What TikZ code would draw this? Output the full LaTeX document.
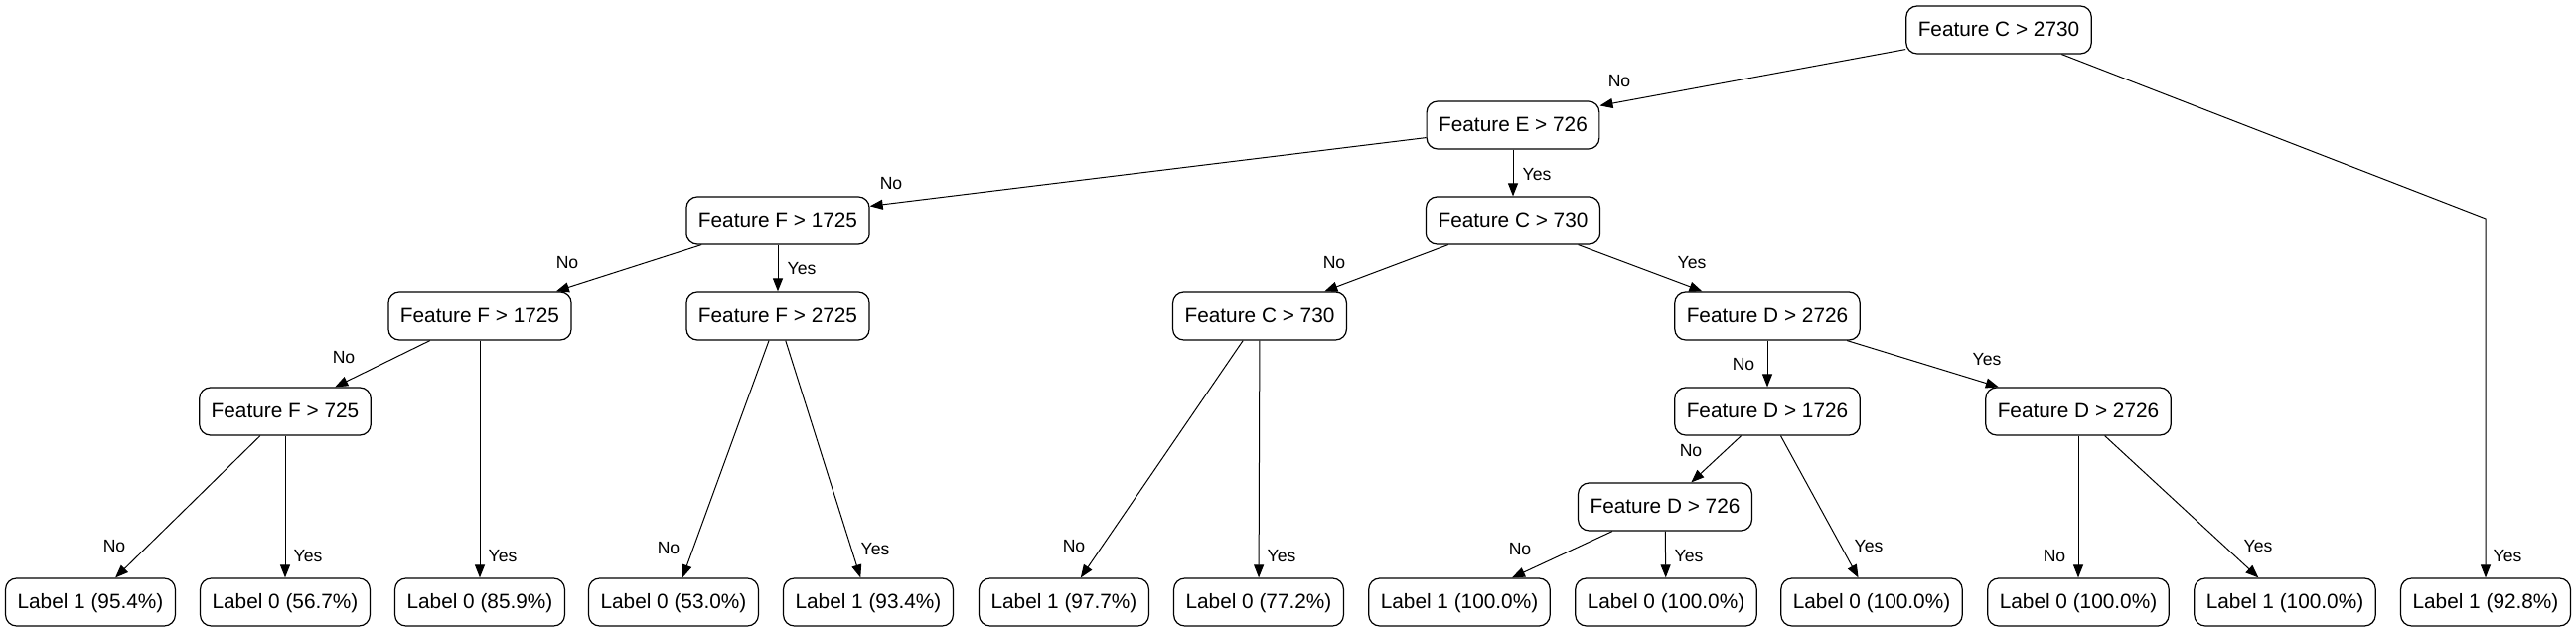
\documentclass[tikz,border=0pt]{standalone}
\usepackage{fontspec}
\setmainfont{Liberation Sans}
\usetikzlibrary{arrows.meta}
\begin{document}
\begin{tikzpicture}[x=0.5pt,y=-0.5pt,
  box/.style={draw, line width=0.6pt, rounded corners=5.5pt, fill=white, minimum height=24pt,
    inner xsep=6pt, inner ysep=0pt, font=\fontsize{10.4pt}{12pt}\selectfont,
    text height=0.72em, text depth=0.02em},
  conn/.style={line width=0.5pt, -{Triangle[length=6.5pt,width=5pt]}},
  lab/.style={inner sep=0pt, font=\fontsize{8.8pt}{10pt}\selectfont, text height=0.72em, text depth=0pt}]
\fill[white] (0,0) rectangle (2593,635);
\useasboundingbox (0,0) rectangle (2593,635);
% decision nodes
\node[box] (root) at (2012,30) {Feature C > 2730};
\node[box] (fE)   at (1523,126) {Feature E > 726};
\node[box] (fF1a) at (783,222) {Feature F > 1725};
\node[box] (fC1)  at (1523,222) {Feature C > 730};
\node[box] (fF1b) at (483,318) {Feature F > 1725};
\node[box] (fF2)  at (783,318) {Feature F > 2725};
\node[box] (fC2)  at (1268,318) {Feature C > 730};
\node[box] (fD2a) at (1779,318) {Feature D > 2726};
\node[box] (fF7)  at (287,414) {Feature F > 725};
\node[box] (fD1)  at (1779,414) {Feature D > 1726};
\node[box] (fD2b) at (2092,414) {Feature D > 2726};
\node[box] (fD7)  at (1676,510) {Feature D > 726};
% leaves
\node[box] (l1)  at (91,606) {Label 1 (95.4\%)};
\node[box] (l2)  at (287,606) {Label 0 (56.7\%)};
\node[box] (l3)  at (483,606) {Label 0 (85.9\%)};
\node[box] (l4)  at (678,606) {Label 0 (53.0\%)};
\node[box] (l5)  at (874,606) {Label 1 (93.4\%)};
\node[box] (l6)  at (1071,606) {Label 1 (97.7\%)};
\node[box] (l7)  at (1267,606) {Label 0 (77.2\%)};
\node[box] (l8)  at (1469,606) {Label 1 (100.0\%)};
\node[box] (l9)  at (1677,606) {Label 0 (100.0\%)};
\node[box] (l10) at (1884,606) {Label 0 (100.0\%)};
\node[box] (l11) at (2092,606) {Label 0 (100.0\%)};
\node[box] (l12) at (2300,606) {Label 1 (100.0\%)};
\node[box] (l13) at (2502,606) {Label 1 (92.8\%)};
\coordinate (bend) at (2502,220);
% connectors
\draw[conn] ([yshift=2.5pt]root.south west) -- ([yshift=-2.5pt]fE.north east);
\draw[conn] (root) -- (bend) -- (l13);
\draw[conn] ([yshift=6pt]fE.south west) -- ([yshift=-5pt]fF1a.north east);
\draw[conn] (fE) -- (fC1);
\draw[conn] (fF1a) -- (fF1b);
\draw[conn] (fF1a) -- (fF2);
\draw[conn] (fF1b) -- (fF7);
\draw[conn] (fF1b) -- (l3);
\draw[conn] (fF7) -- (l1);
\draw[conn] (fF7) -- (l2);
\draw[conn] (fF2) -- (l4);
\draw[conn] (fF2) -- (l5);
\draw[conn] (fC1) -- (fC2);
\draw[conn] (fC1) -- (fD2a);
\draw[conn] (fC2) -- (l6);
\draw[conn] (fC2) -- (l7);
\draw[conn] (fD2a) -- (fD1);
\draw[conn] (fD2a) -- (fD2b);
\draw[conn] (fD1) -- (fD7);
\draw[conn] (fD1) -- (l10);
\draw[conn] (fD7) -- (l8);
\draw[conn] (fD7) -- (l9);
\draw[conn] (fD2b) -- (l11);
\draw[conn] (fD2b) -- (l12);
% edge labels
\node[lab] (t1)  at (1630,80) {No};
\node[lab] (t2)  at (2524,558) {Yes};
\node[lab] (t3)  at (897,183) {No};
\node[lab] (t4)  at (1547,174) {Yes};
\node[lab] (t5)  at (571,263) {No};
\node[lab] (t6)  at (807,269) {Yes};
\node[lab] (t7)  at (346,358) {No};
\node[lab] (t8)  at (506,558) {Yes};
\node[lab] (t9)  at (115,548) {No};
\node[lab] (t10) at (310,558) {Yes};
\node[lab] (t11) at (673,550) {No};
\node[lab] (t12) at (881,551) {Yes};
\node[lab] (t13) at (1343,263) {No};
\node[lab] (t14) at (1703,263) {Yes};
\node[lab] (t15) at (1081,548) {No};
\node[lab] (t16) at (1290,558) {Yes};
\node[lab] (t17) at (1755,365) {No};
\node[lab] (t18) at (2000,360) {Yes};
\node[lab] (t19) at (1702,452) {No};
\node[lab] (t20) at (1881,548) {Yes};
\node[lab] (t21) at (1530,551) {No};
\node[lab] (t22) at (1700,558) {Yes};
\node[lab] (t23) at (2068,558) {No};
\node[lab] (t24) at (2273,548) {Yes};
\end{tikzpicture}
\end{document}
